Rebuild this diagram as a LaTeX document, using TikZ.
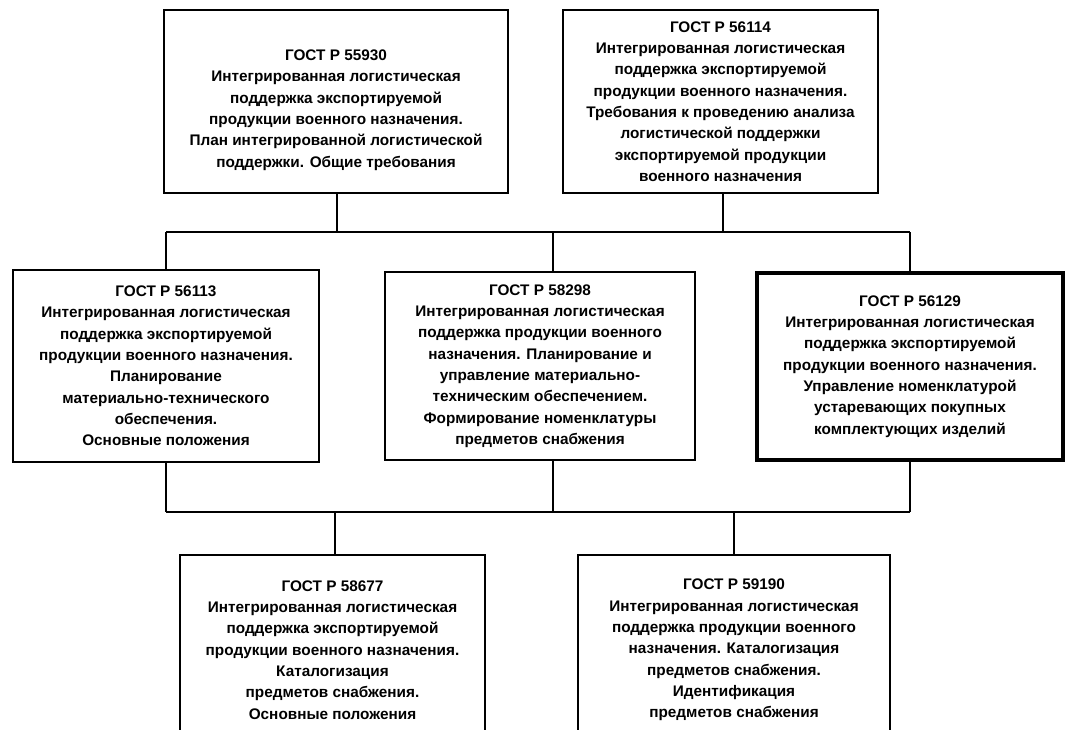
\documentclass[tikz,border=0pt]{standalone}
\usepackage{fontspec}
\setmainfont{Liberation Sans}
\usetikzlibrary{calc}
\begin{document}
\begin{tikzpicture}[x=0.75pt,y=-0.75pt,
  box/.style={draw, line width=1.4pt, align=center, inner sep=0pt,
    font=\bfseries\fontsize{11.5}{16}\selectfont},
  thickbox/.style={box, line width=2.4pt},
  wire/.style={line width=1.4pt}]
\useasboundingbox (0,0) rectangle (1067,729);
\fill[white] (0,0) rectangle (1067,729);

\node[box, minimum width=258pt, minimum height=137.25pt] (tl) at (336,101.5) {\mbox{}\\[5pt]ГОСТ Р 55930\\Интегрированная логистическая\\поддержка экспортируемой\\продукции военного назначения.\\План интегрированной логистической\\поддержки. Общие требования};

\node[box, minimum width=236.25pt, minimum height=137.25pt] (tr) at (720.5,101.5) {ГОСТ Р 56114\\Интегрированная логистическая\\поддержка экспортируемой\\продукции военного назначения.\\Требования к проведению анализа\\логистической поддержки\\экспортируемой продукции\\военного назначения};

\node[box, minimum width=229.5pt, minimum height=144pt] (ml) at (166,366) {ГОСТ Р 56113\\Интегрированная логистическая\\поддержка экспортируемой\\продукции военного назначения.\\Планирование\\материально-технического\\обеспечения.\\Основные положения};

\node[box, minimum width=232.5pt, minimum height=141pt] (mc) at (540,366) {ГОСТ Р 58298\\Интегрированная логистическая\\поддержка продукции военного\\назначения. Планирование и\\управление материально-\\техническим обеспечением.\\Формирование номенклатуры\\предметов снабжения};

\node[thickbox, minimum width=229.5pt, minimum height=140.25pt] (mr) at (910,366.5) {ГОСТ Р 56129\\Интегрированная логистическая\\поддержка экспортируемой\\продукции военного назначения.\\Управление номенклатурой\\устаревающих покупных\\комплектующих изделий};

\node[box, minimum width=228.75pt, minimum height=142.5pt] (bl) at (332.5,650) {ГОСТ Р 58677\\Интегрированная логистическая\\поддержка экспортируемой\\продукции военного назначения.\\Каталогизация\\предметов снабжения.\\Основные положения};

\node[box, minimum width=234pt, minimum height=142.5pt] (br) at (734,650) {ГОСТ Р 59190\\Интегрированная логистическая\\поддержка продукции военного\\назначения. Каталогизация\\предметов снабжения.\\Идентификация\\предметов снабжения};

% stem points
\coordinate (ub) at (0,232);
\coordinate (lb) at (0,512);
\coordinate (tls) at ($(tl.south)+(1,0)$);
\coordinate (trs) at ($(tr.south)+(2.5,0)$);
\coordinate (mcn) at ($(mc.north)+(13,0)$);
\coordinate (mcs) at ($(mc.south)+(13,0)$);
\coordinate (bln) at ($(bl.north)+(2.5,0)$);

% upper bus
\draw[wire] (ml.north |- ub) -- (mr.north |- ub);
\draw[wire] (tls) -- (tls |- ub);
\draw[wire] (trs) -- (trs |- ub);
\draw[wire] (ml.north) -- (ml.north |- ub);
\draw[wire] (mcn) -- (mcn |- ub);
\draw[wire] (mr.north) -- (mr.north |- ub);

% lower bus
\draw[wire] (ml.south |- lb) -- (mr.south |- lb);
\draw[wire] (ml.south) -- (ml.south |- lb);
\draw[wire] (mcs) -- (mcs |- lb);
\draw[wire] (mr.south) -- (mr.south |- lb);
\draw[wire] (bln) -- (bln |- lb);
\draw[wire] (br.north) -- (br.north |- lb);
\end{tikzpicture}
\end{document}
